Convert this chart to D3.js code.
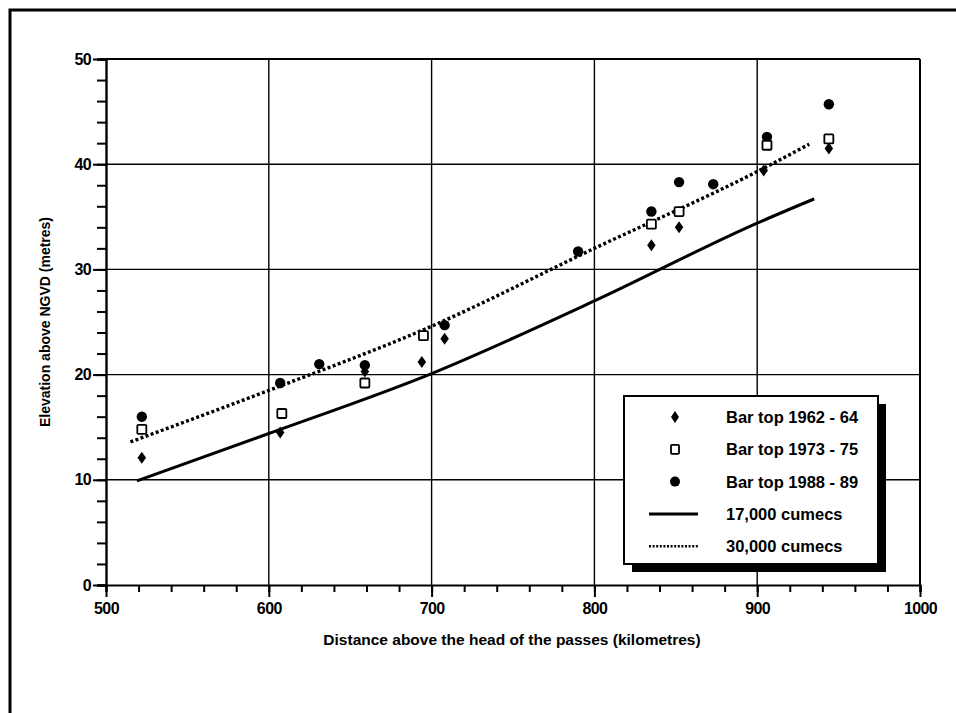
<!DOCTYPE html>
<html><head><meta charset="utf-8">
<script src="https://cdn.jsdelivr.net/npm/d3@7"></script>
<style>
body{margin:0;background:#fff;}
svg{display:block;}
text{font-family:"Liberation Sans",Arial,Helvetica,sans-serif;fill:#000;}
</style></head>
<body>
<svg id="chart" width="956" height="713"></svg>
<script>
// ---- data ----
const xTicks = [500, 600, 700, 800, 900, 1000];
const yTicks = [0, 10, 20, 30, 40, 50];
const bar1962 = [[522,12.1],[607,14.5],[659,20.3],[694,21.2],[708,23.4],[835,32.3],[852,34.0],[904,39.4],[944,41.5]];
const bar1973 = [[522,14.8],[608,16.3],[659,19.2],[695,23.7],[835,34.3],[852,35.5],[906,41.8],[944,42.4]];
const bar1988 = [[522,16.0],[607,19.2],[631,21.0],[659,20.9],[708,24.7],[790,31.7],[835,35.5],[852,38.3],[873,38.1],[906,42.6],[944,45.7]];
const q17000 = [[519,9.9],[600,14.4],[700,20.1],[800,27.0],[900,34.4],[935,36.7]];
const q30000 = [[515,13.6],[600,18.5],[700,24.6],[800,32.0],[900,39.3],[932,41.9]];
const legendLabels = ["Bar top 1962 - 64","Bar top 1973 - 75","Bar top 1988 - 89","17,000 cumecs","30,000 cumecs"];
const xTitle = "Distance above the head of the passes (kilometres)";
const yTitle = "Elevation above NGVD (metres)";

const svg = d3.select("#chart");
const x = d3.scaleLinear().domain([500,1000]).range([106,920]);
const y = d3.scaleLinear().domain([0,50]).range([585,59]);

// page frame (top & left)
svg.append("path").attr("d","M10,713 L10,10 L956,10").attr("fill","none").attr("stroke","#000").attr("stroke-width",3);

// grid
const g = svg.append("g");
g.selectAll(".vg").data(xTicks.slice(1)).enter().append("line")
  .attr("x1",d=>x(d)).attr("x2",d=>x(d)).attr("y1",y(0)).attr("y2",y(50))
  .attr("stroke","#000").attr("stroke-width",d=>d===1000?2:1.4);
g.selectAll(".hg").data(yTicks.slice(1)).enter().append("line")
  .attr("x1",x(500)).attr("x2",x(1000)).attr("y1",d=>y(d)).attr("y2",d=>y(d))
  .attr("stroke","#000").attr("stroke-width",d=>d===50?2.2:1.4);

// axes
const xAxis = svg.append("g").attr("transform",`translate(0,${y(0)})`)
  .call(d3.axisBottom(x).tickValues(d3.range(500,1001,20)).tickSize(7).tickFormat(""));
xAxis.select(".domain").attr("stroke-width",2.2);
xAxis.selectAll(".tick line").attr("stroke-width",2);
const xAxisMajor = svg.append("g").attr("transform",`translate(0,${y(0)})`)
  .call(d3.axisBottom(x).tickValues(xTicks).tickSize(12).tickPadding(6).tickFormat(d3.format("d")));
xAxisMajor.select(".domain").remove();
xAxisMajor.selectAll(".tick line").attr("stroke-width",2);
xAxisMajor.selectAll("text").attr("font-size",16).attr("font-weight","bold").attr("letter-spacing",-0.6)
  .attr("font-family","Liberation Sans, Arial, sans-serif");

const yAxis = svg.append("g").attr("transform",`translate(${x(500)},0)`)
  .call(d3.axisLeft(y).tickValues(d3.range(0,51,2)).tickSize(9).tickFormat(""));
yAxis.select(".domain").attr("stroke-width",2.4);
yAxis.selectAll(".tick line").attr("stroke-width",2);
const yAxisMajor = svg.append("g").attr("transform",`translate(${x(500)},0)`)
  .call(d3.axisLeft(y).tickValues(yTicks).tickSize(13).tickPadding(2).tickFormat(d3.format("d")));
yAxisMajor.select(".domain").remove();
yAxisMajor.selectAll(".tick line").attr("stroke-width",2);
yAxisMajor.selectAll("text").attr("font-size",16).attr("font-weight","bold").attr("letter-spacing",-0.6)
  .attr("font-family","Liberation Sans, Arial, sans-serif");

// titles
svg.append("text").attr("x",512).attr("y",645).attr("text-anchor","middle")
  .attr("font-size",15.5).attr("font-weight","bold").text(xTitle);
svg.append("text").attr("transform","translate(50,322) rotate(-90)").attr("text-anchor","middle")
  .attr("font-size",14).attr("font-weight","bold").text(yTitle);

// lines
const line = d3.line().x(d=>x(d[0])).y(d=>y(d[1])).curve(d3.curveMonotoneX);
svg.append("path").datum(q17000).attr("d",line).attr("fill","none").attr("stroke","#000").attr("stroke-width",3);
svg.append("path").datum(q30000).attr("d",line).attr("fill","none").attr("stroke","#000")
  .attr("stroke-width",3.4).attr("stroke-dasharray","3 2.4");

// symbols
const diamond = (cx,cy,w,h)=>`M${cx},${cy-h/2}L${cx+w/2},${cy}L${cx},${cy+h/2}L${cx-w/2},${cy}Z`;
svg.append("g").selectAll("circle").data(bar1988).enter().append("circle")
  .attr("cx",d=>x(d[0])).attr("cy",d=>y(d[1])).attr("r",5.2).attr("fill","#000");
svg.append("g").selectAll("path").data(bar1962).enter().append("path")
  .attr("d",d=>diamond(x(d[0]),y(d[1]),8.5,12)).attr("fill","#000");
svg.append("g").selectAll("rect").data(bar1973).enter().append("rect")
  .attr("x",d=>x(d[0])-4.5).attr("y",d=>y(d[1])-4.5).attr("width",9).attr("height",9)
  .attr("rx",1).attr("fill","#fff").attr("stroke","#000").attr("stroke-width",1.8);

// legend
const L = {x:624, y:396, w:254, h:168};
svg.append("rect").attr("x",L.x+8).attr("y",L.y+8).attr("width",L.w).attr("height",L.h).attr("fill","#000");
svg.append("rect").attr("x",L.x).attr("y",L.y).attr("width",L.w).attr("height",L.h)
  .attr("fill","#fff").attr("stroke","#000").attr("stroke-width",2);
const rowY = i => 417 + i*32.3;
const lg = svg.append("g");
lg.selectAll("text").data(legendLabels).enter().append("text")
  .attr("x",726).attr("y",(d,i)=>rowY(i)+6).attr("font-size",16.5).attr("font-weight","bold").text(d=>d);
lg.append("path").attr("d",diamond(675,rowY(0),8,12)).attr("fill","#000");
lg.append("rect").attr("x",671).attr("y",rowY(1)-4.5).attr("width",8).attr("height",9).attr("rx",1)
  .attr("fill","#fff").attr("stroke","#000").attr("stroke-width",1.8);
lg.append("circle").attr("cx",675).attr("cy",rowY(2)).attr("r",5).attr("fill","#000");
lg.append("line").attr("x1",649).attr("x2",698).attr("y1",rowY(3)).attr("y2",rowY(3)).attr("stroke","#000").attr("stroke-width",3);
lg.append("line").attr("x1",649).attr("x2",698).attr("y1",rowY(4)).attr("y2",rowY(4)).attr("stroke","#000")
  .attr("stroke-width",2.4).attr("stroke-dasharray","2 1.6");
</script>
</body></html>
